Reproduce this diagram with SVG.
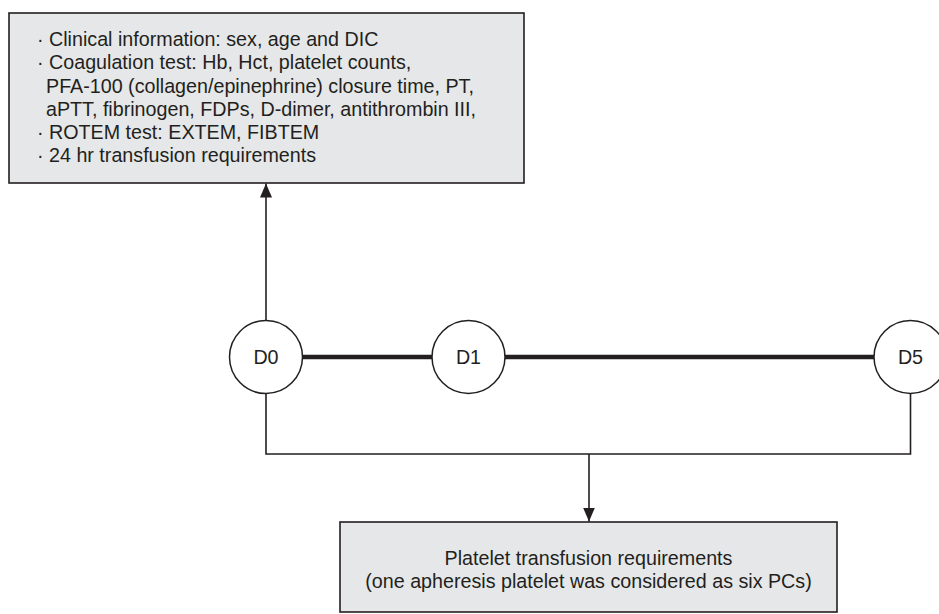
<svg xmlns="http://www.w3.org/2000/svg" width="939" height="614" viewBox="0 0 939 614">
<style>
.box{fill:#e6e7e8;stroke:#231f20;stroke-width:1.6}
.circ{fill:#ffffff;stroke:#231f20;stroke-width:1.5}
.t{font-family:"Liberation Sans",Arial,sans-serif;font-size:19.7px;fill:#231f20}
.thin{fill:none;stroke:#231f20;stroke-width:1.6}
.thick{fill:none;stroke:#231f20;stroke-width:4.5}
</style>
<defs>
<marker id="ah" viewBox="0 0 14 12" refX="14" refY="6" markerWidth="14" markerHeight="12" markerUnits="userSpaceOnUse" orient="auto">
<path d="M0,0 L14,6 L0,12 Z" fill="#231f20"/>
</marker>
</defs>
<g id="connectors">
<line class="thin" x1="266" y1="320" x2="266" y2="183.5" marker-end="url(#ah)"/>
<line class="thick" x1="302.5" y1="357" x2="432" y2="357"/>
<line class="thick" x1="505" y1="357" x2="874" y2="357"/>
<polyline class="thin" points="266,393.5 266,454 910.5,454 910.5,393.5"/>
<line class="thin" x1="589" y1="454" x2="589" y2="521.5" marker-end="url(#ah)"/>
</g>
<g id="info-box">
<rect class="box" x="9" y="13" width="515" height="170"/>
<text class="t" x="37" y="45.5">· Clinical information: sex, age and DIC</text>
<text class="t" x="37" y="69">· Coagulation test: Hb, Hct, platelet counts,</text>
<text class="t" x="46" y="92.5">PFA-100 (collagen/epinephrine) closure time, PT,</text>
<text class="t" x="46" y="116">aPTT, fibrinogen, FDPs, D-dimer, antithrombin III,</text>
<text class="t" x="37" y="139">· ROTEM test: EXTEM, FIBTEM</text>
<text class="t" x="37" y="162">· 24 hr transfusion requirements</text>
</g>
<g id="D0">
<circle class="circ" cx="266" cy="357" r="36.5"/>
<text class="t" x="266" y="364" text-anchor="middle">D0</text>
</g>
<g id="D1">
<circle class="circ" cx="468.5" cy="357" r="36.5"/>
<text class="t" x="468.5" y="364" text-anchor="middle">D1</text>
</g>
<g id="D5">
<circle class="circ" cx="910.5" cy="357" r="36.5"/>
<text class="t" x="910.5" y="364" text-anchor="middle">D5</text>
</g>
<g id="result-box">
<rect class="box" x="340" y="522" width="497" height="90"/>
<text class="t" x="588.5" y="565" text-anchor="middle">Platelet transfusion requirements</text>
<text class="t" x="588.5" y="588" text-anchor="middle">(one apheresis platelet was considered as six PCs)</text>
</g>
</svg>
